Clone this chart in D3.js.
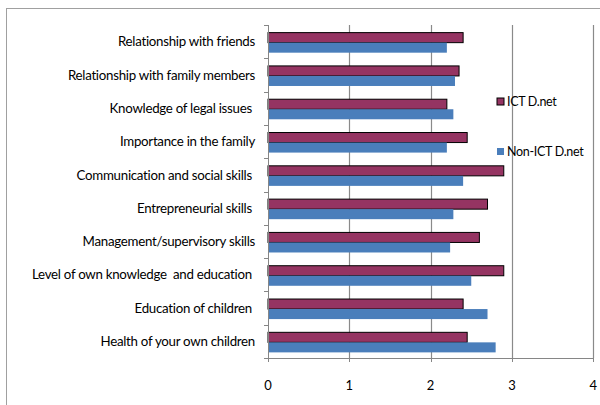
<!DOCTYPE html>
<html>
<head>
<meta charset="utf-8">
<script src="https://cdn.jsdelivr.net/npm/d3@7"></script>
<style>
  body { margin: 0; background: #fff; }
  svg { display: block; }
  text { font-family: Lato, 'Liberation Sans', sans-serif; fill: #000; }
</style>
</head>
<body>
<div id="chart"></div>
<script>
// categories top to bottom
const categories = [
	'Relationship with friends',
	'Relationship with family members',
	'Knowledge of legal issues ',
	'Importance in the family',
	'Communication and social skills ',
	'Entrepreneurial skills ',
	'Management/supervisory skills',
	'Level of own knowledge  and education ',
	'Education of children ',
	'Health of your own children'
]
const seriesNames = ['ICT D.net', 'Non-ICT D.net']
const ictValues = [2.4, 2.35, 2.2, 2.45, 2.9, 2.7, 2.6, 2.9, 2.4, 2.45]
const nonIctValues = [2.2, 2.3, 2.28, 2.2, 2.4, 2.28, 2.24, 2.5, 2.7, 2.8]
const xTicks = [0, 1, 2, 3, 4]

const width = 600, height = 405
const margin = {top: 25, right: 7, bottom: 47, left: 268}
const colors = ['#953462', '#4a7ebb']

const svg = d3.select('#chart').append('svg')
	.attr('width', width)
	.attr('height', height)

// outer chart frame (right/bottom edges fall off the picture)
svg.append('rect')
	.attr('x', 6.5).attr('y', 8.5)
	.attr('width', 700).attr('height', 500)
	.attr('fill', 'none')
	.attr('stroke', '#a0a0a0')

const x = d3.scaleLinear()
	.domain([0, 4])
	.range([margin.left, margin.left + 81.3 * 4])

const y = d3.scaleBand()
	.domain(categories)
	.range([margin.top, height - margin.bottom])

const inner = d3.scaleBand()
	.domain(seriesNames)
	.range([1, y.bandwidth() + 1])
	.paddingOuter(0.66)
	.paddingInner(0)

// gridlines
svg.append('g')
	.selectAll('line')
	.data(xTicks.slice(1))
	.enter()
	.append('line')
	.attr('x1', d => Math.round(x(d)) + 0.5)
	.attr('x2', d => Math.round(x(d)) + 0.5)
	.attr('y1', margin.top)
	.attr('y2', height - margin.bottom)
	.attr('stroke', '#8a8a8a')
	.attr('stroke-width', 1.2)

// bars
const rows = categories.map((c, i) => ({cat: c, vals: [ictValues[i], nonIctValues[i]]}))
const groups = svg.append('g')
	.selectAll('g')
	.data(rows)
	.enter()
	.append('g')
	.attr('transform', d => `translate(0,${y(d.cat)})`)

groups.selectAll('rect')
	.data(d => d.vals.map((v, k) => ({name: seriesNames[k], v: v, k: k})))
	.enter()
	.append('rect')
	.attr('x', x(0))
	.attr('y', d => inner(d.name))
	.attr('width', d => x(d.v) - x(0))
	.attr('height', inner.bandwidth())
	.attr('fill', d => colors[d.k])
	.attr('stroke', d => d.k === 0 ? '#000' : 'none')
	.attr('stroke-width', 1)

// y axis
const yAxis = svg.append('g')
	.attr('transform', `translate(${x(0)},0)`)
yAxis.append('line')
	.attr('x1', 0.5).attr('x2', 0.5)
	.attr('y1', margin.top).attr('y2', height - margin.bottom + 4)
	.attr('stroke', '#868686')
yAxis.selectAll('.tick')
	.data(d3.range(categories.length + 1))
	.enter()
	.append('line')
	.attr('x1', -4).attr('x2', 0.5)
	.attr('y1', i => Math.round(margin.top + i * y.step()) + 0.5)
	.attr('y2', i => Math.round(margin.top + i * y.step()) + 0.5)
	.attr('stroke', '#868686')

svg.append('g')
	.selectAll('text')
	.data(categories)
	.enter()
	.append('text')
	.attr('x', 255)
	.attr('y', d => y(d) + y.bandwidth() / 2)
	.attr('dy', '0.35em')
	.attr('text-anchor', 'end')
	.style('font-size', '13.3px')
	.style('letter-spacing', '-0.28px')
	.style('white-space', 'pre')
	.text(d => d)

// x axis
const xAxis = svg.append('g')
	.attr('transform', `translate(0,${height - margin.bottom})`)
xAxis.append('line')
	.attr('x1', x(0)).attr('x2', x(4) + 0.5)
	.attr('y1', 0.5).attr('y2', 0.5)
	.attr('stroke', '#868686')
xAxis.selectAll('.tk')
	.data(xTicks)
	.enter()
	.append('line')
	.attr('x1', d => Math.round(x(d)) + 0.5)
	.attr('x2', d => Math.round(x(d)) + 0.5)
	.attr('y1', 0).attr('y2', 4)
	.attr('stroke', '#868686')
xAxis.selectAll('text')
	.data(xTicks)
	.enter()
	.append('text')
	.attr('x', d => x(d))
	.attr('y', 27)
	.attr('dy', '0.35em')
	.attr('text-anchor', 'middle')
	.style('font-size', '13px')
	.text(d => d)

// legend
const legend = svg.append('g')
	.selectAll('g')
	.data(seriesNames)
	.enter()
	.append('g')
	.attr('transform', (d, i) => `translate(497,${98 + i * 50})`)
legend.append('rect')
	.attr('width', 7).attr('height', 7)
	.attr('fill', (d, i) => colors[i])
	.attr('stroke', (d, i) => i === 0 ? '#000' : 'none')
legend.append('text')
	.attr('x', 10)
	.attr('y', 4)
	.attr('dy', '0.35em')
	.style('font-size', '12.5px')
	.style('letter-spacing', '-0.3px')
	.text(d => d)
</script>
</body>
</html>
